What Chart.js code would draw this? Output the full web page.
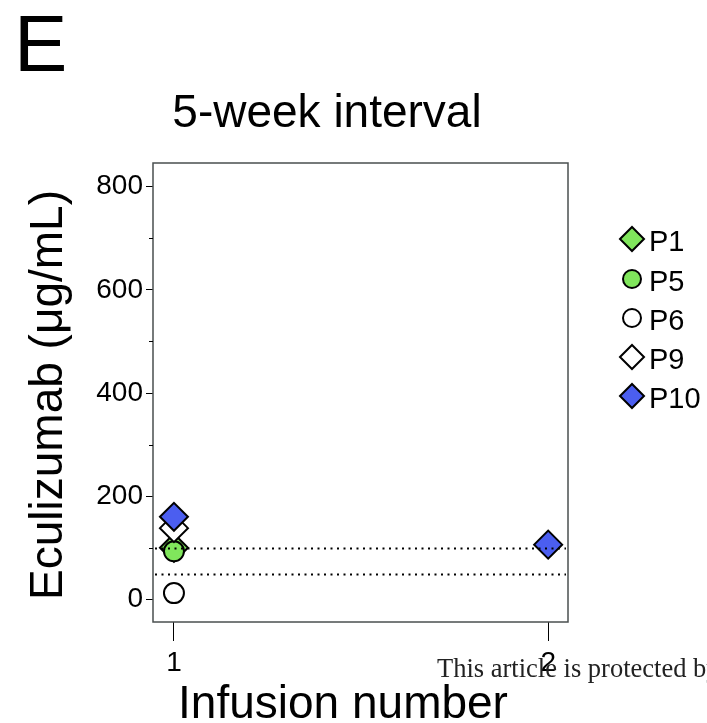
<!DOCTYPE html>
<html>
<head>
<meta charset="utf-8">
<script src="https://cdn.jsdelivr.net/npm/chart.js@4/dist/chart.umd.min.js"></script>
<style>
  html, body { margin: 0; padding: 0; background: #fff; overflow: hidden; }
  #wrap { width: 707px; height: 723px; position: relative; }
</style>
</head>
<body>
<div id="wrap"><canvas id="c" width="707" height="723"></canvas></div>
<script>
// Eculizumab trough levels, 5-week dosing interval
const infusions = [1, 2];
const seriesNames = ['P1', 'P5', 'P6', 'P9', 'P10'];
const p1 = [100, null];
const p5 = [93, null];
const p6 = [12, null];
const p9 = [138, null];
const p10 = [160, 106];
const yTickValues = [0, 100, 200, 300, 400, 500, 600, 700, 800];
const xTickValues = [1, 2];
const thresholds = [100, 50];

const FONT = '"Liberation Sans", Arial, Helvetica, sans-serif';
const GREEN = '#80e65c';
const BLUE = '#4b5ef0';

// marker look per patient
const markerStyle = {
  P1:  { shape: 'rectRot', fill: GREEN,  r: 14, order: 3 },
  P5:  { shape: 'circle',  fill: GREEN,  r: 10, order: 2 },
  P6:  { shape: 'circle',  fill: '#fff', r: 10, order: 4 },
  P9:  { shape: 'rectRot', fill: '#fff', r: 14, order: 1 },
  P10: { shape: 'rectRot', fill: BLUE,   r: 14, order: 0 }
};
const seriesValues = { P1: p1, P5: p5, P6: p6, P9: p9, P10: p10 };

function toPoints(vals) {
  return infusions
    .map((x, i) => ({ x: x, y: vals[i] }))
    .filter(p => p.y !== null);
}

const datasets = seriesNames.map(name => {
  const s = markerStyle[name];
  return {
    label: name,
    data: toPoints(seriesValues[name]),
    pointStyle: s.shape,
    pointRadius: s.r,
    pointHoverRadius: s.r,
    pointBackgroundColor: s.fill,
    pointBorderColor: '#000',
    pointBorderWidth: 2,
    showLine: false,
    order: s.order
  };
});

function drawMarker(ctx, shape, x, y, r, fill) {
  ctx.save();
  ctx.beginPath();
  if (shape === 'circle') {
    ctx.arc(x, y, r, 0, Math.PI * 2);
  } else {
    ctx.moveTo(x - r, y);
    ctx.lineTo(x, y - r);
    ctx.lineTo(x + r, y);
    ctx.lineTo(x, y + r);
    ctx.closePath();
  }
  ctx.fillStyle = fill;
  ctx.fill();
  ctx.lineWidth = 2;
  ctx.strokeStyle = '#000';
  ctx.stroke();
  ctx.restore();
}

const decorations = {
  id: 'decorations',
  afterDatasetsDraw(chart) {
    const ctx = chart.ctx;
    const a = chart.chartArea;
    const y = chart.scales.y;
    // dotted threshold lines
    ctx.save();
    ctx.strokeStyle = '#000';
    ctx.lineWidth = 2;
    ctx.setLineDash([2, 4.5]);
    thresholds.forEach(v => {
      const py = Math.round(y.getPixelForValue(v)) + 0.5;
      ctx.beginPath();
      ctx.moveTo(a.left + 2, py);
      ctx.lineTo(a.right - 2, py);
      ctx.stroke();
    });
    ctx.restore();
    // frame
    ctx.save();
    ctx.strokeStyle = '#4a4f4f';
    ctx.lineWidth = 1.5;
    ctx.strokeRect(a.left, a.top, a.right - a.left, a.bottom - a.top);
    ctx.restore();
  },
  afterDraw(chart) {
    const ctx = chart.ctx;
    const a = chart.chartArea;
    const y = chart.scales.y;
    ctx.save();
    // minor ticks
    ctx.strokeStyle = '#000';
    ctx.lineWidth = 1;
    yTickValues.filter(v => v % 200 !== 0).forEach(v => {
      const py = Math.round(y.getPixelForValue(v)) + 0.5;
      ctx.beginPath();
      ctx.moveTo(a.left - 4, py);
      ctx.lineTo(a.left, py);
      ctx.stroke();
    });

    ctx.fillStyle = '#000';
    // panel letter
    ctx.font = '80px ' + FONT;
    ctx.textAlign = 'left';
    ctx.textBaseline = 'alphabetic';
    ctx.fillText('E', 14, 71);
    // title
    ctx.font = '46px ' + FONT;
    ctx.textAlign = 'center';
    ctx.fillText('5-week interval', 327, 127);
    // x axis title
    ctx.fillText('Infusion number', 343, 718);
    // y axis title
    ctx.save();
    ctx.translate(62, 395);
    ctx.rotate(-Math.PI / 2);
    ctx.textAlign = 'center';
    ctx.fillText('Eculizumab (\u03bcg/mL)', 0, 0);
    ctx.restore();

    // legend
    const rowY = [239, 279, 318, 357, 396];
    ctx.font = '29px ' + FONT;
    ctx.textAlign = 'left';
    seriesNames.forEach((name, i) => {
      const s = markerStyle[name];
      const r = s.shape === 'circle' ? 9 : 12;
      drawMarker(ctx, s.shape, 632, rowY[i], r, s.fill);
      ctx.fillStyle = '#000';
      ctx.fillText(name, 649, rowY[i] + 12);
    });

    // footer notice
    ctx.font = '26.5px "Liberation Serif", "Times New Roman", serif';
    ctx.fillStyle = '#222';
    ctx.fillText('This article is protected by copyright. All rights reserved.', 437, 677);
    ctx.restore();
  }
};

new Chart(document.getElementById('c'), {
  type: 'scatter',
  data: { datasets: datasets },
  options: {
    responsive: false,
    devicePixelRatio: 1,
    animation: false,
    events: [],
    layout: { padding: { top: 163, right: 139, left: 0, bottom: 0 } },
    plugins: {
      legend: { display: false },
      tooltip: { enabled: false },
      title: { display: false }
    },
    scales: {
      x: {
        type: 'linear',
        min: 0.944,
        max: 2.053,
        afterBuildTicks: s => { s.ticks = xTickValues.map(v => ({ value: v })); },
        afterFit: s => { s.height = 101; },
        border: { display: false },
        grid: { drawOnChartArea: false, drawTicks: true, tickLength: 19, color: '#000', lineWidth: 1 },
        ticks: { color: '#000', font: { family: FONT, size: 28 }, padding: 5, maxRotation: 0 }
      },
      y: {
        type: 'linear',
        min: -44,
        max: 846,
        afterBuildTicks: s => { s.ticks = yTickValues.map(v => ({ value: v })); },
        afterFit: s => { s.width = 153; },
        border: { display: false },
        grid: {
          drawOnChartArea: false,
          drawTicks: true,
          tickLength: 7,
          lineWidth: 1,
          color: c => (c.tick && c.tick.value % 200 === 0) ? '#000' : 'rgba(0,0,0,0)'
        },
        ticks: {
          color: '#000',
          font: { family: FONT, size: 28 },
          padding: 3,
          callback: v => (v % 200 === 0 ? String(v) : '')
        }
      }
    }
  },
  plugins: [decorations]
});
</script>
</body>
</html>
